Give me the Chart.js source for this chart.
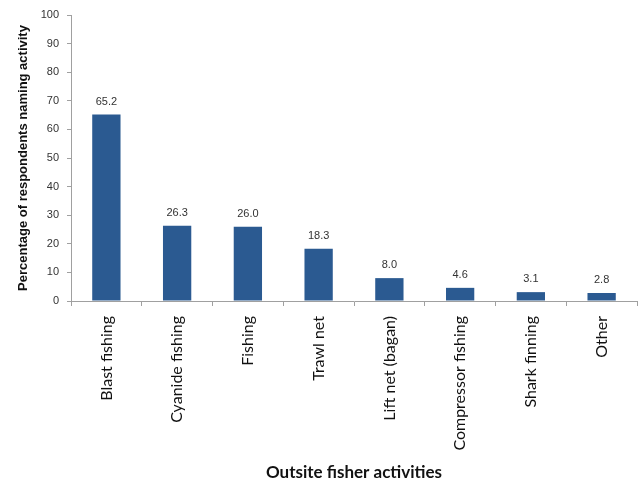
<!DOCTYPE html>
<html>
<head>
<meta charset="utf-8">
<script src="https://cdn.jsdelivr.net/npm/chart.js@4"></script>
<style>
    html, body { margin: 0; padding: 0; background: #fff; }
    #wrap { width: 638px; height: 485px; }
</style>
</head>
<body>
<div id="wrap"><canvas id="activityChart"></canvas></div>
<script>
// Chart data
const categories = ['Blast fishing', 'Cyanide fishing', 'Fishing', 'Trawl net', 'Lift net (bagan)', 'Compressor fishing', 'Shark finning', 'Other'];
const percentValues = [65.2, 26.3, 26.0, 18.3, 8.0, 4.6, 3.1, 2.8];

/**
 * Draw the value above each bar
 */
const barValueLabels = {
    id: 'barValueLabels',
    afterDatasetsDraw(chart) {
        const ctx = chart.ctx;
        const meta = chart.getDatasetMeta(0);
        ctx.save();
        ctx.font = '11px "Liberation Sans", Arial, sans-serif';
        ctx.fillStyle = '#333';
        ctx.textAlign = 'center';
        ctx.textBaseline = 'middle';
        meta.data.forEach((bar, i) => {
            ctx.fillText(percentValues[i].toFixed(1), bar.x, bar.y - 13);
        });
        ctx.restore();
    }
};

function initActivityChart() {
    const ctx = document.getElementById('activityChart');
    if (!ctx) return;

    new Chart(ctx, {
        type: 'bar',
        data: {
            labels: categories,
            datasets: [{
                data: percentValues,
                backgroundColor: '#2b5a91',
                barPercentage: 0.4,
                categoryPercentage: 1.0
            }]
        },
        options: {
            responsive: true,
            maintainAspectRatio: false,
            animation: false,
            layout: {
                padding: { top: 15, left: 12, right: 1, bottom: 0 }
            },
            plugins: {
                legend: { display: false },
                tooltip: { enabled: false }
            },
            scales: {
                x: {
                    grid: {
                        display: true,
                        drawOnChartArea: false,
                        tickLength: 5,
                        color: '#a0a0a0'
                    },
                    border: { color: '#a0a0a0' },
                    ticks: {
                        minRotation: 90,
                        maxRotation: 90,
                        padding: 10,
                        color: '#111',
                        font: { family: 'Lato, "Open Sans", sans-serif', size: 16 }
                    },
                    title: {
                        display: true,
                        text: 'Outsite fisher activities',
                        color: '#111',
                        padding: { top: 4, bottom: 2 },
                        font: { family: 'Lato, "Open Sans", sans-serif', size: 17, weight: 'bold' }
                    },
                    afterFit(scale) {
                        scale.height = 184;
                    }
                },
                y: {
                    min: 0,
                    max: 100,
                    grid: {
                        display: true,
                        drawOnChartArea: false,
                        tickLength: 4,
                        color: '#a0a0a0'
                    },
                    border: { color: '#a0a0a0' },
                    ticks: {
                        stepSize: 10,
                        padding: 8,
                        color: '#333',
                        font: { family: '"Liberation Sans", Arial, sans-serif', size: 11 }
                    },
                    title: {
                        display: true,
                        text: 'Percentage of respondents naming activity',
                        color: '#111',
                        font: { family: '"Liberation Sans", Arial, sans-serif', size: 13, weight: 'bold' }
                    },
                    afterFit(scale) {
                        scale.width = 59;
                    }
                }
            }
        },
        plugins: [barValueLabels]
    });
}

document.addEventListener('DOMContentLoaded', initActivityChart);
</script>
</body>
</html>
